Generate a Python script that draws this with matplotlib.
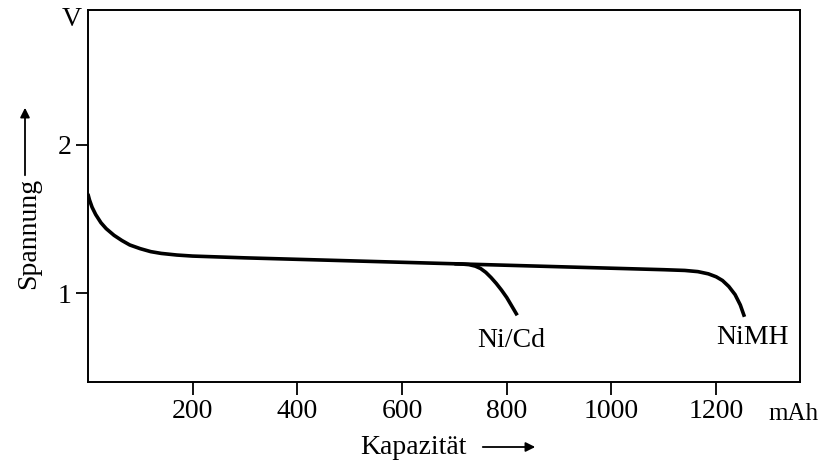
import matplotlib.pyplot as plt
from matplotlib.patches import FancyArrowPatch
from matplotlib.lines import Line2D

# gemeinsamer Verlauf bis ca. 700 mAh
common_x = [0, 3, 8, 15, 25, 35, 50, 65, 80, 100, 120, 140, 170, 200, 300, 400, 500, 600, 700]
common_y = [1.67, 1.63, 1.58, 1.53, 1.475, 1.435, 1.39, 1.355, 1.325, 1.30, 1.28, 1.268, 1.257, 1.25,
            1.238, 1.228, 1.218, 1.208, 1.198]

nicd_x = [700, 715, 728, 740, 750, 760, 770, 780, 790, 800, 810, 820]
nicd_y = [1.198, 1.196, 1.192, 1.182, 1.166, 1.14, 1.105, 1.065, 1.02, 0.97, 0.91, 0.85]

nimh_x = [700, 800, 900, 1000, 1100, 1140, 1165, 1185, 1200, 1212, 1224, 1236, 1246, 1254]
nimh_y = [1.198, 1.188, 1.178, 1.168, 1.158, 1.153, 1.145, 1.13, 1.11, 1.085, 1.045, 0.99, 0.92, 0.84]

xticks = [200, 400, 600, 800, 1000, 1200]
yticks = [1, 2]

plt.rcParams['font.family'] = ['Liberation Serif', 'DejaVu Serif']

fig = plt.figure(figsize=(8.29, 4.63), dpi=100)
ax = fig.add_axes([0.106, 0.175, 0.859, 0.803])

lw = 2.6
ax.plot(common_x + nicd_x[1:], common_y + nicd_y[1:], color='black', lw=lw, solid_capstyle='butt')
ax.plot(nimh_x, nimh_y, color='black', lw=lw, solid_capstyle='butt')

ax.set_xlim(0, 1360)
ax.set_ylim(0.40, 2.91)
ax.set_xticks(xticks)
ax.set_yticks(yticks)
ax.tick_params(direction='out', length=9, width=1.3, labelsize=20, pad=3)
for s in ax.spines.values():
    s.set_linewidth(1.4)

ax.text(809, 0.68, 'Ni/Cd', fontsize=20, ha='center', va='center')
ax.text(1269, 0.70, 'NiMH', fontsize=20, ha='center', va='center')

# Einheiten
fig.text(768 / 829, 1 - 414 / 463, 'mAh', fontsize=18, ha='left', va='center')
fig.text(72 / 829, 1 - 20 / 463, 'V', fontsize=20, ha='center', va='center')

# Achsenbeschriftungen mit Pfeilen
fig.text(29 / 829, 1 - 233 / 463, 'Spannung', fontsize=20, rotation=90, ha='center', va='center')
fig.add_artist(FancyArrowPatch(
    (25 / 829, 1 - 178 / 463), (25 / 829, 1 - 105 / 463), transform=fig.transFigure,
    arrowstyle='-|>', mutation_scale=14, color='black', lw=1.3))

fig.text(413 / 829, 1 - 448 / 463, 'Kapazität', fontsize=20, ha='center', va='center')
fig.add_artist(FancyArrowPatch(
    (480 / 829, 1 - 447 / 463), (538 / 829, 1 - 447 / 463), transform=fig.transFigure,
    arrowstyle='-|>', mutation_scale=14, color='black', lw=1.3))

fig.savefig('out.png', dpi=100)
